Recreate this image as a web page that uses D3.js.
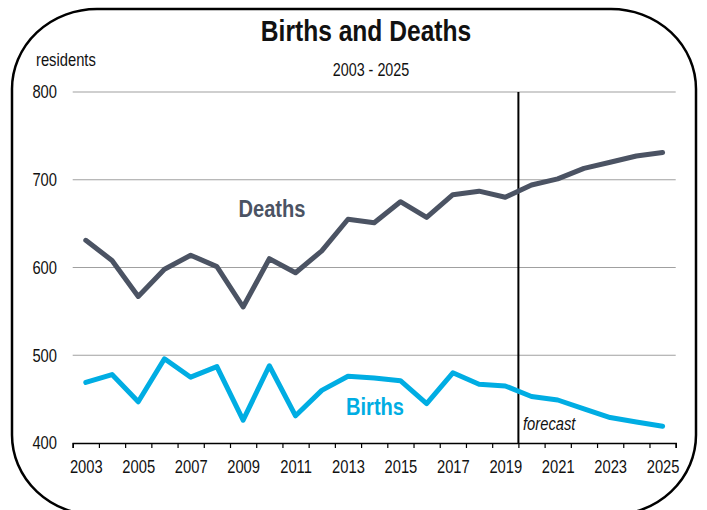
<!DOCTYPE html>
<html>
<head>
<meta charset="utf-8">
<script src="https://cdn.jsdelivr.net/npm/d3@7"></script>
<style>
  body { margin: 0; background: #fff; }
  svg text { font-family: "Liberation Sans Narrow", "Arial Narrow", "Liberation Sans", Arial, sans-serif; }
</style>
</head>
<body>
<div id="chart"></div>
<script>
// data
var years = d3.range(2003, 2026);
var deaths = [631, 608, 567, 598, 614, 601, 555, 610, 594, 619, 655, 651,
              675, 657, 683, 687, 680, 694, 701, 713, 720, 727, 731];
var births = [469, 478, 447, 496, 475, 487, 426, 488, 431, 460, 476, 474,
              471, 445, 480, 467, 465, 453, 449, 439, 429, 424, 419];
var yTicks = [400, 500, 600, 700, 800];
var xLabels = [2003, 2005, 2007, 2009, 2011, 2013, 2015, 2017, 2019, 2021, 2023, 2025];
var forecastFrom = 2019.5;

var W = 707, H = 510;
var plotLeft = 72.7, plotRight = 675.7, plotTop = 92, plotBottom = 443;
var narrow = 0.82; // no narrow font installed, squeeze the regular one

var svg = d3.select("#chart").append("svg")
    .attr("width", W)
    .attr("height", H);

// rounded frame
svg.append("rect")
    .attr("x", 12).attr("y", 9)
    .attr("width", 684).attr("height", 506)
    .attr("rx", 85).attr("ry", 80)
    .attr("fill", "none")
    .attr("stroke", "#000")
    .attr("stroke-width", 2.5);

var x = d3.scaleLinear().domain([2002.5, 2025.5]).range([plotLeft, plotRight]);
var y = d3.scaleLinear().domain([400, 800]).range([plotBottom, plotTop]);

// grid lines
svg.append("g")
    .selectAll("line")
    .data(yTicks.slice(1))
    .enter()
    .append("line")
    .attr("x1", plotLeft).attr("x2", plotRight)
    .attr("y1", function(d) { return y(d); })
    .attr("y2", function(d) { return y(d); })
    .attr("stroke", "#a0a0a0")
    .attr("stroke-width", 1.2);

// y labels
var yAxis = svg.append("g")
    .attr("transform", "translate(57,0)")
    .call(d3.axisLeft(y).tickValues(yTicks).tickSize(0).tickPadding(0));
yAxis.select(".domain").remove();
yAxis.selectAll("text")
    .attr("font-size", 18)
    .attr("fill", "#111")
    .attr("transform", "scale(" + narrow + ",1)")
    .style("font-family", null);

// x axis: tick marks on the year boundaries
var xAxis = svg.append("g")
    .attr("transform", "translate(0," + plotBottom + ")")
    .call(d3.axisBottom(x)
        .tickValues(d3.range(2002.5, 2026, 1))
        .tickSize(5)
        .tickFormat(""));
xAxis.select(".domain").attr("stroke", "#000").attr("stroke-width", 1.5);
xAxis.selectAll(".tick line").attr("stroke", "#000").attr("stroke-width", 1.2);

var xLab = svg.append("g")
    .attr("transform", "translate(0," + plotBottom + ")")
    .call(d3.axisBottom(x).tickValues(xLabels).tickSize(0).tickPadding(17).tickFormat(d3.format("d")));
xLab.select(".domain").remove();
xLab.selectAll("text")
    .attr("font-size", 18)
    .attr("fill", "#111")
    .attr("transform", "scale(" + narrow + ",1)")
    .style("font-family", null);

// forecast divider
svg.append("line")
    .attr("x1", x(forecastFrom)).attr("x2", x(forecastFrom))
    .attr("y1", plotTop).attr("y2", plotBottom)
    .attr("stroke", "#000")
    .attr("stroke-width", 2);

var line = d3.line()
    .x(function(d, i) { return x(years[i]); })
    .y(function(d) { return y(d); });

svg.append("path")
    .datum(deaths)
    .attr("d", line)
    .attr("fill", "none")
    .attr("stroke", "#4b5363")
    .attr("stroke-width", 5)
    .attr("stroke-linecap", "round")
    .attr("stroke-linejoin", "round");

svg.append("path")
    .datum(births)
    .attr("d", line)
    .attr("fill", "none")
    .attr("stroke", "#00ade3")
    .attr("stroke-width", 5)
    .attr("stroke-linecap", "round")
    .attr("stroke-linejoin", "round");

// texts, squeezed horizontally around their anchor point
function label(tx, ty, size, txt) {
    return svg.append("text")
        .attr("transform", "translate(" + tx + "," + ty + ") scale(" + narrow + ",1)")
        .attr("font-size", size)
        .attr("fill", "#111")
        .text(txt);
}

label(366, 41, 30, "Births and Deaths")
    .attr("text-anchor", "middle")
    .attr("font-weight", "bold");

label(371, 76, 17.5, "2003 - 2025")
    .attr("text-anchor", "middle");

label(36, 66, 18, "residents");

label(272, 217, 24.5, "Deaths")
    .attr("text-anchor", "middle")
    .attr("font-weight", "bold")
    .attr("fill", "#4b5363");

label(375, 415, 24.5, "Births")
    .attr("text-anchor", "middle")
    .attr("font-weight", "bold")
    .attr("fill", "#00ade3");

label(523, 430, 18, "forecast")
    .attr("font-style", "italic");
</script>
</body>
</html>
